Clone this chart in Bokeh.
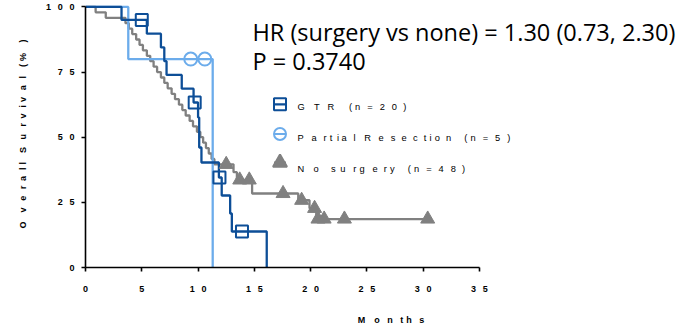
from bokeh.plotting import figure
from bokeh.models import Range1d, FixedTicker, Label
from bokeh.embed import file_html
from bokeh.resources import INLINE

# ---- survival data (months, percent surviving after each event) ----
gtr_times = [3.2, 5.45, 6.7, 7.0, 7.2, 8.55, 9.6, 10.0, 10.1, 10.3, 11.85, 12.1, 12.85, 13.0, 16.1]
gtr_surv = [95.0, 89.72, 84.44, 79.17, 73.89, 68.61, 63.33, 57.58, 46.06, 40.30, 34.54, 27.63, 20.72, 13.82, 0.0]
gtr_cens_t = [5.0, 9.7, 11.9, 13.9]
gtr_cens_s = [95.0, 63.33, 34.54, 13.82]

pr_times = [3.8, 11.3]
pr_surv = [80.0, 0.0]
pr_cens_t = [9.35, 10.6]
pr_cens_s = [80.0, 80.0]

ns_times = [0.9, 1.8, 3.55, 3.85, 4.15, 4.5, 4.8, 5.1, 5.45, 5.75, 6.05, 6.36, 6.7, 7.0,
            7.3, 7.65, 7.95, 8.3, 8.6, 8.9, 9.25, 9.55, 9.9, 10.2, 10.45, 10.7, 10.95,
            11.2, 11.45, 13.15, 13.45, 14.8, 18.9, 19.9, 20.5]
ns_surv = [97.92, 95.83, 93.75, 91.67, 89.58, 87.50, 85.42, 83.33, 81.25, 79.17, 77.08,
           75.00, 72.92, 70.83, 68.75, 66.67, 64.58, 62.50, 60.42, 58.33, 56.25, 54.17,
           52.08, 50.00, 47.92, 45.83, 43.75, 41.67, 39.58, 36.6, 33.6, 28.4, 25.8, 22.7,
           18.6]
ns_cens_t = [12.5, 13.7, 14.55, 17.55, 19.2, 20.35, 20.65, 21.2, 23.0, 30.4]
ns_cens_s = [39.58, 33.6, 33.6, 28.4, 25.8, 22.7, 18.6, 18.6, 18.6, 18.6]

x_ticks = [0, 5, 10, 15, 20, 25, 30, 35]
y_ticks = [0, 25, 50, 75, 100]

legend_labels = ["GTR (n=20)", "Partial Resection (n=5)", "No surgery (n=48)"]
hr_text = "HR (surgery vs none) = 1.30 (0.73, 2.30)"
p_text = "P = 0.3740"

DARK = "#0d4e97"
LIGHT = "#6caceb"
GRAY = "#808080"

# Arial-metric advance widths (em) used to spread text out letter by letter
REG_W = {" ": .278, "(": .333, ")": .333, "=": .584, "%": .889, "G": .778, "T": .611,
         "R": .722, "P": .667, "N": .722, "a": .556, "c": .5, "e": .556, "g": .556,
         "i": .222, "l": .222, "n": .556, "o": .556, "r": .333, "s": .5, "t": .278,
         "u": .556, "y": .5}
BOLD_W = {" ": .278, "(": .333, ")": .333, "%": .889, "O": .778, "S": .667, "M": .833,
          "v": .556, "e": .556, "r": .389, "a": .556, "l": .278, "u": .611, "i": .278,
          "o": .611, "n": .611, "t": .333, "h": .611, "s": .556}
SPACES = [(1.0, "\u2003"), (0.5, "\u2002"), (1 / 3, "\u2004"), (0.25, "\u2005"),
          (1 / 6, "\u2006")]
TRACK = 2.28


def spaced(s, widths, track=TRACK):
    out = []
    want = 0.0
    have = 0.0
    for i, ch in enumerate(s):
        w = widths.get(ch, .556)
        if ch == " ":
            want += w * track
        else:
            out.append(ch)
            want += w * track
            have += w
        if i == len(s) - 1:
            break
        # fill with spacing characters so the pen follows the stretched advance
        rem = want - have
        for unit, sp in SPACES:
            while rem >= unit - 1 / 12:
                out.append(sp)
                have += unit
                rem -= unit
    return "".join(out)


def km_path(times, surv, end=None):
    xs = [0.0] + list(times)
    ys = [100.0] + list(surv)
    if end is not None and end > xs[-1]:
        xs.append(end)
        ys.append(ys[-1])
    return xs, ys


W, H = 696, 327
LEFT, BOTTOM = 85, 57
PX_PER_MONTH = 11.257
PX_PER_PCT = 2.635
x_end = (W - LEFT) / PX_PER_MONTH
y_end = (H - BOTTOM) / PX_PER_PCT


def dx(px):
    return (px - LEFT) / PX_PER_MONTH


def dy(py):
    return (H - BOTTOM - py) / PX_PER_PCT


p = figure(width=W, height=H, output_backend="svg", toolbar_location=None,
           x_range=Range1d(0, x_end), y_range=Range1d(0, y_end),
           min_border_left=LEFT, min_border_right=0, min_border_top=0,
           min_border_bottom=BOTTOM)
p.outline_line_color = None
p.grid.visible = False
p.background_fill_color = "white"

for ax, ticks, bnd in ((p.xaxis, x_ticks, (0, 35)), (p.yaxis, y_ticks, (0, 100))):
    ax.ticker = FixedTicker(ticks=ticks)
    ax.bounds = bnd
    ax.major_label_overrides = {t: spaced(str(t), BOLD_W) for t in ticks}
    ax.axis_line_width = 1.6
    ax.major_tick_line_width = 1.6
    ax.major_tick_out = 4
    ax.major_tick_in = 0
    ax.minor_tick_line_color = None
    ax.major_label_text_font = "Liberation Sans"
    ax.major_label_text_font_style = "bold"
    ax.major_label_text_font_size = "9px"
    ax.major_label_text_color = "black"
    ax.axis_line_color = "black"
    ax.major_tick_line_color = "black"
    ax.axis_label_text_font = "Liberation Sans"
    ax.axis_label_text_font_style = "bold"
    ax.axis_label_text_font_size = "9px"
    ax.axis_label_text_color = "black"
p.xaxis.major_label_standoff = 12
p.yaxis.major_label_standoff = 7
p.xaxis.axis_label = spaced("Months", BOLD_W)
p.yaxis.axis_label = spaced("Overall Survival (%)", BOLD_W)
p.xaxis.axis_label_standoff = 18
p.yaxis.axis_label_standoff = 15

# survival curves
xs, ys = km_path(ns_times, ns_surv, end=ns_cens_t[-1])
p.step(xs, ys, mode="after", line_color=GRAY, line_width=2.3)
xs, ys = km_path(pr_times, pr_surv)
p.step(xs, ys, mode="after", line_color=LIGHT, line_width=2.3)
xs, ys = km_path(gtr_times, gtr_surv)
p.step(xs, ys, mode="after", line_color=DARK, line_width=2.3)

# censor marks
p.scatter(ns_cens_t, ns_cens_s, marker="triangle", size=14, fill_color=GRAY,
          line_color=GRAY)
p.scatter(pr_cens_t, pr_cens_s, marker="circle", size=13, fill_color=None,
          line_color=LIGHT, line_width=2)
p.scatter(gtr_cens_t, gtr_cens_s, marker="square", size=12, fill_color=None,
          line_color=DARK, line_width=2)

# legend
leg_x = dx(279.5)
leg_rows = [(105, 108, "square", DARK, None), (135, 139, "circle", LIGHT, None),
            (164, 170, "triangle", GRAY, GRAY)]
for (my, ty, mk, col, fill), lab in zip(leg_rows, legend_labels):
    p.segment(dx(273.5), dy(my), dx(285.5), dy(my), line_color=col, line_width=2.2)
    p.scatter([leg_x], [dy(my)], marker=mk, size=12 if mk != "triangle" else 14,
              fill_color=fill, line_color=col, line_width=2)
    p.add_layout(Label(x=dx(297), y=dy(ty), text=spaced(lab, REG_W),
                       text_font="Liberation Sans", text_font_size="9.3px",
                       text_color="black", text_baseline="middle", text_align="left"))

# hazard ratio annotation
p.add_layout(Label(x=dx(252), y=dy(32), text=hr_text, text_font="Open Sans",
                   text_font_size="23.5px", text_color="black",
                   text_baseline="middle"))
p.add_layout(Label(x=dx(252), y=dy(61), text=p_text, text_font="Open Sans",
                   text_font_size="23.5px", text_color="black",
                   text_baseline="middle"))

open("out.html", "w").write(file_html(p, INLINE))
